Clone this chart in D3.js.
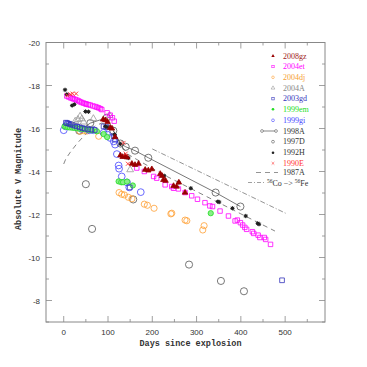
<!DOCTYPE html>
<html>
<head>
<meta charset="utf-8">
<script src="https://cdn.jsdelivr.net/npm/d3@7"></script>
<style>
  body { margin: 0; background: #fff; }
  text { font-family: "Liberation Sans", sans-serif; }
</style>
</head>
<body>
<svg width="367" height="367"></svg>
<script>
// light curves: [days since explosion, absolute V mag]
const sn2008gz = [[89,-16.42],[94,-16.39],[99,-16.31],[105,-16.03],[109,-16.0],[116,-15.6],[128,-14.75],[133,-14.68],[138,-14.7],[143,-14.66],[154,-14.36],[161,-14.31],[169,-14.36],[184,-14.08],[191,-14.05],[199,-14.11],[218,-13.89],[222,-13.8],[225,-13.61],[230,-13.57],[248,-13.33],[255,-13.3],[260,-13.49],[274,-13.02]];
const sn2004et = [[7,-17.51],[11,-17.47],[15,-17.43],[19,-17.4],[22,-17.38],[26,-17.35],[30,-17.32],[34,-17.28],[37,-17.24],[41,-17.21],[45,-17.18],[49,-17.15],[52,-17.13],[56,-17.11],[60,-17.09],[66,-17.05],[71,-17.02],[75,-16.99],[79,-16.96],[83,-16.92],[86,-16.88],[98,-16.73],[105,-16.62],[110,-16.5],[114,-16.34],[165,-14.16],[182,-14.0],[203,-13.77],[210,-13.69],[229,-13.38],[244,-13.3],[248,-13.22],[259,-13.19],[274,-13.02],[289,-12.87],[302,-12.71],[319,-12.55],[330,-12.4],[336,-12.37],[353,-12.16],[372,-11.93],[387,-11.7],[392,-11.74],[399,-11.62],[404,-11.51],[409,-11.4],[413,-11.31],[426,-11.2],[429,-11.12],[439,-11.04],[443,-10.93],[453,-10.93],[456,-10.84],[467,-10.61]];
const sn2004dj = [[37,-15.87],[45,-15.9],[52,-15.88],[79,-15.64],[125,-13.02],[131,-12.94],[137,-12.91],[146,-12.8],[154,-12.73],[182,-12.48],[189,-12.43],[204,-12.29],[242,-12.03],[244,-12.06],[274,-11.74],[278,-11.71],[314,-11.28],[317,-11.48]];
const sn2004A = [[26,-16.34],[32,-16.42],[37,-16.57],[41,-16.45],[45,-16.3],[67,-16.46],[104,-16.6],[150,-14.08]];
const sn2003gd = [[5,-16.27],[8,-16.25],[12,-16.22],[16,-16.19],[20,-16.17],[25,-16.13],[30,-16.1],[36,-16.06],[42,-16.02],[48,-15.99],[55,-15.96],[62,-15.95],[70,-15.93],[90,-16.1],[96,-16.06],[113,-15.64],[116,-15.48],[149,-13.26],[493,-8.94]];
const sn1999em = [[2,-16.1],[6,-16.08],[10,-16.06],[14,-16.05],[19,-16.04],[24,-16.03],[30,-16.01],[36,-15.99],[42,-15.98],[48,-15.96],[56,-15.94],[64,-15.92],[75,-15.87],[90,-15.74],[98,-15.6],[124,-13.54],[130,-13.5],[134,-13.5],[143,-13.53],[156,-13.35],[332,-12.06]];
const sn1999gi = [[0,-15.92],[4,-16.1],[9,-16.2],[15,-16.15],[22,-16.1],[30,-16.05],[40,-15.98],[58,-15.92],[67,-15.92],[90,-15.8],[98,-15.72],[105,-15.56],[113,-15.4],[116,-15.25],[120,-14.81],[124,-14.28],[125,-14.13],[131,-13.77],[143,-13.49],[148,-13.26],[174,-13.04]];
const sn1998A = [[35,-15.9],[60,-16.25],[97,-16.5],[112,-15.9],[128,-15.3],[140,-15.15],[161,-14.97],[191,-14.64],[343,-13.02],[399,-12.37]];
const sn1997D = [[50,-13.41],[64,-11.33],[157,-12.7],[283,-9.67],[355,-8.91],[407,-8.43]];
const sn1992H = [[3,-17.8],[7,-17.59],[19,-17.07],[24,-17.12],[49,-16.79],[56,-16.78],[94,-16.1],[98,-16.06],[115,-15.72],[128,-15.28],[146,-14.63],[227,-13.8],[260,-13.49],[287,-13.22],[348,-12.6],[351,-12.58],[381,-12.29],[411,-11.93],[438,-11.59],[441,-11.55]];
const sn1990E = [[8,-17.54],[15,-17.59],[20,-17.62],[28,-17.62],[135,-15.33],[140,-14.83],[145,-14.36]];
const sn1987A = [[0,-14.35],[5,-14.6],[15,-14.9],[30,-15.3],[50,-15.75],[70,-16.1],[85,-16.25],[100,-16.2],[115,-15.8],[130,-15.2],[145,-14.8],[170,-14.5],[200,-14.15],[233,-13.77],[300,-13.07],[350,-12.55],[400,-12.03],[477,-11.23]];
const coDecay = [[200,-15.05],[501,-12.06]];

const xMajor = [0, 100, 200, 300, 400, 500];
const xMinor = [50, 150, 250, 350, 450, 550];
const yMajor = [-20, -18, -16, -14, -12, -10, -8];
const yMinor = [-19, -17, -15, -13, -11, -9, -7];

const svg = d3.select('svg');
const plotLeft = 46, plotRight = 325, plotTop = 42.5, plotBottom = 322;

const x = d3.scaleLinear().domain([-40, 590]).range([plotLeft, plotRight]);
const y = d3.scaleLinear().domain([-20, -7]).range([plotTop, plotBottom]);

const axisColor = '#888';

// frame
svg.append('rect')
    .attr('x', plotLeft).attr('y', plotTop)
    .attr('width', plotRight - plotLeft).attr('height', plotBottom - plotTop)
    .attr('fill', 'none').attr('stroke', axisColor).attr('stroke-width', 1);

// ticks (inward, on all four sides)
const tickG = svg.append('g').attr('stroke', axisColor).attr('stroke-width', 0.8);
xMajor.concat(xMinor).forEach(d => {
  const len = xMajor.includes(d) ? 6 : 3;
  tickG.append('line').attr('x1', x(d)).attr('x2', x(d)).attr('y1', plotBottom).attr('y2', plotBottom - len);
  tickG.append('line').attr('x1', x(d)).attr('x2', x(d)).attr('y1', plotTop).attr('y2', plotTop + len);
});
yMajor.concat(yMinor).forEach(d => {
  const len = yMajor.includes(d) ? 6 : 3;
  tickG.append('line').attr('y1', y(d)).attr('y2', y(d)).attr('x1', plotLeft).attr('x2', plotLeft + len);
  tickG.append('line').attr('y1', y(d)).attr('y2', y(d)).attr('x1', plotRight).attr('x2', plotRight - len);
});

svg.selectAll('.xlab').data(xMajor).enter().append('text')
    .attr('x', d => x(d)).attr('y', 335)
    .attr('text-anchor', 'middle').attr('font-size', 8).attr('fill', '#333')
    .text(d => d);
svg.selectAll('.ylab').data(yMajor).enter().append('text')
    .attr('x', 40).attr('y', d => y(d) + 3)
    .attr('text-anchor', 'end').attr('font-size', 8).attr('fill', '#333')
    .text(d => d);

svg.append('text')
    .attr('x', (plotLeft + plotRight) / 2 + 5).attr('y', 346)
    .attr('text-anchor', 'middle')
    .style('font-family', '"Liberation Mono", monospace').style('font-weight', 'bold')
    .attr('font-size', 8.5).attr('fill', '#333')
    .text('Days since explosion');
svg.append('text')
    .attr('transform', 'translate(21,179) rotate(-90)')
    .attr('text-anchor', 'middle')
    .style('font-family', '"Liberation Mono", monospace').style('font-weight', 'bold')
    .attr('font-size', 8.5).attr('fill', '#333')
    .text('Absolute V Magnitude');

// lines
const line = d3.line().x(d => x(d[0])).y(d => y(d[1]));
const plot = svg.append('g');
plot.append('path').attr('d', line(sn1987A))
    .attr('fill', 'none').attr('stroke', '#666').attr('stroke-width', 0.8).attr('stroke-dasharray', '5,4');
plot.append('path').attr('d', line(coDecay))
    .attr('fill', 'none').attr('stroke', '#777').attr('stroke-width', 0.8).attr('stroke-dasharray', '5,2,1,2');
plot.append('path').attr('d', line(sn1998A))
    .attr('fill', 'none').attr('stroke', '#555').attr('stroke-width', 0.8);

// marker helpers
function drawSymbol(g, data, type, size, stroke, fill) {
  g.selectAll(null).data(data).enter().append('path')
      .attr('transform', d => `translate(${x(d[0])},${y(d[1])})`)
      .attr('d', d3.symbol().type(type).size(size))
      .attr('fill', fill).attr('stroke', stroke).attr('stroke-width', 0.8);
}
function drawCross(g, data, r, color) {
  data.forEach(d => {
    const cx = x(d[0]), cy = y(d[1]);
    g.append('path')
        .attr('d', `M${cx - r},${cy - r}L${cx + r},${cy + r}M${cx - r},${cy + r}L${cx + r},${cy - r}`)
        .attr('stroke', color).attr('stroke-width', 0.9);
  });
}
function drawStar(g, data, r, color) {
  data.forEach(d => {
    const cx = x(d[0]), cy = y(d[1]);
    g.append('circle').attr('cx', cx).attr('cy', cy).attr('r', r * 0.75).attr('fill', color);
    g.append('path')
        .attr('d', `M${cx - r},${cy}L${cx + r},${cy}M${cx},${cy - r}L${cx},${cy + r}M${cx - r * 0.7},${cy - r * 0.7}L${cx + r * 0.7},${cy + r * 0.7}M${cx - r * 0.7},${cy + r * 0.7}L${cx + r * 0.7},${cy - r * 0.7}`)
        .attr('stroke', color).attr('stroke-width', 0.8);
  });
}

drawSymbol(plot, sn1997D, d3.symbolCircle, 40, '#555', 'none');
drawSymbol(plot, sn1998A, d3.symbolCircle, 40, '#555', 'none');
drawSymbol(plot, sn2004dj, d3.symbolCircle, 30, '#ffa033', 'none');
drawSymbol(plot, sn1999gi, d3.symbolCircle, 36, '#4444ff', 'none');
drawSymbol(plot, sn1999em, d3.symbolCircle, 22, '#22dd22', '#88ee88');
drawSymbol(plot, sn2003gd, d3.symbolSquare, 22, '#3333bb', 'none');
drawSymbol(plot, sn2004A, d3.symbolTriangle, 20, '#999', 'none');
drawSymbol(plot, sn2004et, d3.symbolSquare, 20, '#ff00ff', 'none');
drawStar(plot, sn1992H, 2.2, '#222');
drawSymbol(plot, sn2008gz, d3.symbolTriangle, 13, '#990000', '#990000');
drawCross(plot, sn1990E, 2, '#ff3333');

// legend
const legend = [
  {name: '2008gz', color: '#a02020', y: 56},
  {name: '2004et', color: '#ff00ff', y: 66.5},
  {name: '2004dj', color: '#f5a033', y: 77.3},
  {name: '2004A', color: '#888', y: 88},
  {name: '2003gd', color: '#3333bb', y: 98.7},
  {name: '1999em', color: '#22dd22', y: 109.3},
  {name: '1999gi', color: '#4444ff', y: 120.3},
  {name: '1998A', color: '#333', y: 131},
  {name: '1997D', color: '#333', y: 141.7},
  {name: '1992H', color: '#333', y: 152.7},
  {name: '1990E', color: '#ff3333', y: 163.3},
  {name: '1987A', color: '#333', y: 172.5}
];
const lg = svg.append('g');
lg.selectAll('text').data(legend).enter().append('text')
    .attr('x', 283).attr('y', d => d.y + 2.7)
    .style('font-family', '"Liberation Serif", serif')
    .attr('font-size', 8).attr('fill', d => d.color)
    .text(d => d.name);

const mx = 273;
const lm = svg.append('g');
lm.append('path').attr('transform', `translate(${mx},56)`).attr('d', d3.symbol().type(d3.symbolTriangle).size(5)).attr('fill', '#990000');
lm.append('rect').attr('x', mx - 1.2).attr('y', 66.5 - 1.2).attr('width', 2.4).attr('height', 2.4).attr('fill', 'none').attr('stroke', '#ff00ff').attr('stroke-width', 0.6);
lm.append('circle').attr('cx', mx).attr('cy', 77.3).attr('r', 1.3).attr('fill', 'none').attr('stroke', '#ffa033').attr('stroke-width', 0.6);
lm.append('path').attr('transform', `translate(${mx},88)`).attr('d', d3.symbol().type(d3.symbolTriangle).size(6)).attr('fill', 'none').attr('stroke', '#999').attr('stroke-width', 0.6);
lm.append('rect').attr('x', mx - 1.2).attr('y', 98.7 - 1.2).attr('width', 2.4).attr('height', 2.4).attr('fill', 'none').attr('stroke', '#3333bb').attr('stroke-width', 0.6);
lm.append('circle').attr('cx', mx).attr('cy', 109.3).attr('r', 1.3).attr('fill', '#22dd22');
lm.append('circle').attr('cx', mx).attr('cy', 120.3).attr('r', 1.4).attr('fill', 'none').attr('stroke', '#4444ff').attr('stroke-width', 0.6);
lm.append('line').attr('x1', 262).attr('x2', 276).attr('y1', 131).attr('y2', 131).attr('stroke', '#555').attr('stroke-width', 0.7);
[262, 276].forEach(cx => lm.append('circle').attr('cx', cx).attr('cy', 131).attr('r', 1.4).attr('fill', '#fff').attr('stroke', '#555').attr('stroke-width', 0.6));
lm.append('circle').attr('cx', mx).attr('cy', 141.7).attr('r', 1.4).attr('fill', 'none').attr('stroke', '#555').attr('stroke-width', 0.6);
lm.append('circle').attr('cx', mx).attr('cy', 152.7).attr('r', 1.3).attr('fill', '#222');
lm.append('path').attr('d', `M${mx - 1.3},${163.3 - 1.3}L${mx + 1.3},${163.3 + 1.3}M${mx - 1.3},${163.3 + 1.3}L${mx + 1.3},${163.3 - 1.3}`).attr('stroke', '#ff3333').attr('stroke-width', 0.6);
lm.append('line').attr('x1', 256).attr('x2', 278).attr('y1', 172.5).attr('y2', 172.5)
    .attr('stroke', '#666').attr('stroke-width', 0.7).attr('stroke-dasharray', '5,4');
lm.append('line').attr('x1', 248).attr('x2', 265).attr('y1', 182.5).attr('y2', 182.5)
    .attr('stroke', '#777').attr('stroke-width', 0.7).attr('stroke-dasharray', '4,2,1,2');

const co = svg.append('text').attr('x', 267).attr('y', 185.5)
    .style('font-family', '"Liberation Serif", serif').attr('font-size', 8).attr('fill', '#333');
co.append('tspan').attr('font-size', 5.5).attr('dy', -3).text('56');
co.append('tspan').attr('dy', 3).text('Co \u2212> ');
co.append('tspan').attr('font-size', 5.5).attr('dy', -3).text('56');
co.append('tspan').attr('dy', 3).text('Fe');
</script>
</body>
</html>
